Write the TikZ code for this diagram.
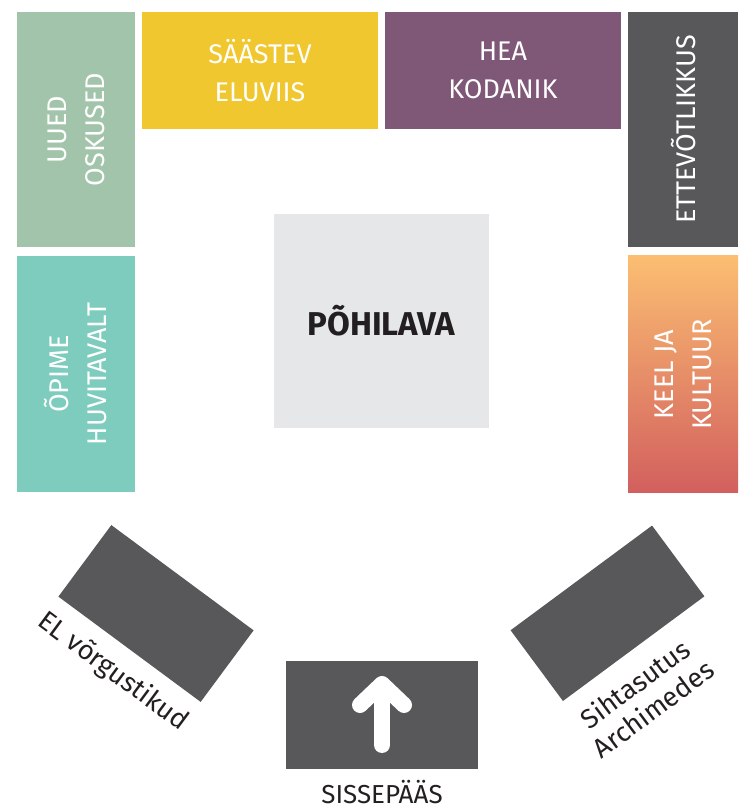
\documentclass[tikz,border=0pt]{standalone}
\usepackage{fontspec}
\setmainfont{Fira Sans}
\usepackage{tikz}
\usetikzlibrary{positioning}
\definecolor{salvei}{HTML}{A2C4AB}
\definecolor{kollane}{HTML}{F0C72F}
\definecolor{lilla}{HTML}{7F5777}
\definecolor{tumehall}{HTML}{58585A}
\definecolor{turkiis}{HTML}{7ECCBD}
\definecolor{oranz}{HTML}{FBBE72}
\definecolor{punane}{HTML}{D25F5E}
\definecolor{helehall}{HTML}{E6E7E8}
\definecolor{tekst}{HTML}{231F20}

\begin{document}
\begin{tikzpicture}[x=1pt,y=1pt,
  ala/.style={inner sep=0pt,outer sep=0pt,text=white,align=center,font=\fontsize{27}{38}\selectfont},
  silt/.style={inner sep=0pt,text=tekst,align=center,font=\fontsize{27}{31}\selectfont},
  nool/.style={white,line width=16pt,line cap=round,line join=round}]
\useasboundingbox (0,0) rectangle (739,810);
% ulemine rida
\node[ala,fill=salvei,rotate=90,minimum width=235,minimum height=118] (oskused) at (76,680.5) {UUED\\OSKUSED};
\node[ala,fill=kollane,minimum width=236,minimum height=117] (saastev) at (260,739.5) {SÄÄSTEV\\ELUVIIS};
\node[ala,fill=lilla,minimum width=236,minimum height=117] (kodanik) at (503,739.5) {HEA\\KODANIK};
\node[ala,fill=tumehall,rotate=90,minimum width=235,minimum height=110] (ettev) at (683,680.5) {ETTEVÕTLIKKUS};
% keskmine rida
\node[ala,fill=turkiis,rotate=90,minimum width=236,minimum height=118] (huvitavalt) at (76,436) {ÕPIME\\HUVITAVALT};
\node[ala,top color=oranz,bottom color=punane,minimum width=110,minimum height=237] (kultuur) at (683,435.5) {};
\node[ala,rotate=90] (kultuurtekst) at (kultuur.center) {KEEL JA\\KULTUUR};
\node[fill=helehall,minimum size=214.5,text=tekst,font=\bfseries\fontsize{33}{38}\selectfont] (pohilava) at (381.5,489) {PÕHILAVA};
% alumine rida
\node[fill=tumehall,minimum width=177,minimum height=89,rotate=-36.5] (vork) at (156,196.5) {};
\node[silt,rotate=-36.5,yshift=-28] (vorksilt) at (vork.south) {EL võrgustikud};
\node[fill=tumehall,minimum width=176,minimum height=88,rotate=36.5] (arch) at (607.5,196.7) {};
\node[silt,rotate=36.5,xshift=-20,yshift=-44] (archsilt) at (arch.south) {Sihtasutus\\Archimedes};
\node[fill=tumehall,minimum width=192,minimum height=108] (sisse) at (382,95) {};
\draw[nool] ([yshift=-30]sisse.center) -- ([yshift=29]sisse.center);
\draw[nool] ([xshift=-22,yshift=10]sisse.center) -- ([yshift=31]sisse.center) -- ([xshift=22,yshift=10]sisse.center);
\node[silt,text depth=0pt,font=\fontsize{26}{30}\selectfont,below=11pt of sisse] (sissesilt) {SISSEPÄÄS};
\end{tikzpicture}
\end{document}
